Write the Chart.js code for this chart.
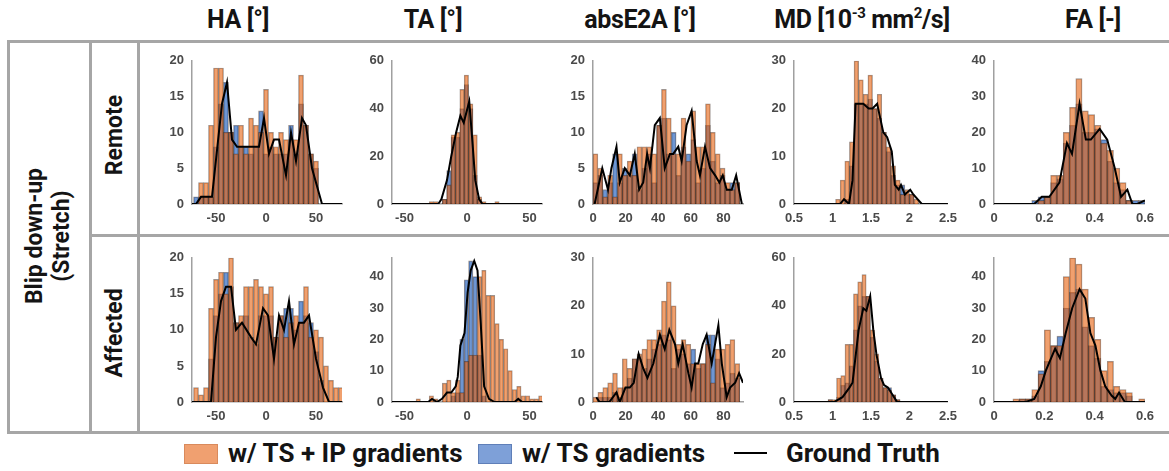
<!DOCTYPE html>
<html>
<head>
<meta charset="utf-8">
<script src="https://cdn.jsdelivr.net/npm/chart.js@4.4.1/dist/chart.umd.min.js"></script>
<style>
  html, body { margin: 0; padding: 0; background: #fff; }
  #fig { position: relative; width: 1169px; height: 471px; overflow: hidden; background: #fff;
         font-family: Roboto, "Liberation Sans", sans-serif; color: #141414; }
  .rule { position: absolute; background: #a6a6a6; }
  .hdr { position: absolute; top: 5px; font-weight: 700; font-size: 25px; white-space: nowrap;
         transform: translateX(-50%); line-height: 30px; letter-spacing: -0.4px; }
  .hdr sup { font-size: 15px; vertical-align: 10px; line-height: 0; }
  .rot { position: absolute; font-weight: 700; font-size: 23px; white-space: nowrap; text-align: center;
         transform: translate(-50%, -50%) rotate(-90deg); line-height: 27px; }
  canvas { position: absolute; }
  .sw { position: absolute; height: 20px; box-sizing: border-box; }
  .lt { position: absolute; top: 438px; font-weight: 700; font-size: 26px; white-space: nowrap; line-height: 30px; }
</style>
</head>
<body>
<div id="fig">
  <div class="rule" style="left:7px;top:40px;width:1162px;height:3px"></div>
  <div class="rule" style="left:7px;top:431px;width:1162px;height:3px"></div>
  <div class="rule" style="left:7px;top:40px;width:3px;height:394px"></div>
  <div class="rule" style="left:89px;top:40px;width:3px;height:394px"></div>
  <div class="rule" style="left:137px;top:40px;width:3px;height:394px"></div>
  <div class="rule" style="left:89px;top:234px;width:1080px;height:3px"></div>

  <div class="hdr" style="left:238px">HA [°]</div>
  <div class="hdr" style="left:433px">TA [°]</div>
  <div class="hdr" style="left:640px">absE2A [°]</div>
  <div class="hdr" style="left:862px">MD [10<sup>-3</sup> mm<sup>2</sup>/s]</div>
  <div class="hdr" style="left:1093px">FA [-]</div>

  <div class="rot" style="left:48px;top:236px">Blip down-up<br>(Stretch)</div>
  <div class="rot" style="left:114px;top:135px">Remote</div>
  <div class="rot" style="left:114px;top:333px">Affected</div>

  <div class="sw" style="left:184px;top:444px;width:34px;background:#f0a070;border:1px solid #d98a5c"></div>
  <div class="lt" style="left:228px">w/ TS + IP gradients</div>
  <div class="sw" style="left:478px;top:444px;width:34px;background:#7ea0d8;border:1px solid #5f7fb8"></div>
  <div class="lt" style="left:522px">w/ TS gradients</div>
  <div class="sw" style="left:734px;top:452px;width:33px;height:2px;background:#000"></div>
  <div class="lt" style="left:786px">Ground Truth</div>
</div>

<script>
// ---- bin centres ----
const haBins = [-70,-65,-60,-55,-50,-45,-40,-35,-30,-25,-20,-15,-10,-5,0,5,10,15,20,25,30,35,40,45,50,55,60,65,70,75];
const taBins = [-53,-49.5,-46,-42.5,-39,-35.5,-32,-28.5,-25,-21.5,-18,-14.5,-11,-7.5,-4,-0.5,3,6.5,10,13.5,17,20.5,24,27.5,31,34.5,38,41.5,45,48.5,52,55.5,59];
const e2aBins = [1.5,4.5,7.5,10.5,13.5,16.5,19.5,22.5,25.5,28.5,31.5,34.5,37.5,40.5,43.5,46.5,49.5,52.5,55.5,58.5,61.5,64.5,67.5,70.5,73.5,76.5,79.5,82.5,85.5,88.5];
const mdRemoteBins = [1.07,1.13,1.19,1.25,1.31,1.37,1.43,1.49,1.55,1.61,1.67,1.73,1.79,1.85,1.91,1.97,2.03,2.09];
const mdAffectedBins = [0.97,1.025,1.08,1.135,1.19,1.245,1.30,1.355,1.41,1.465,1.52,1.575,1.63,1.685,1.74,1.795,1.85];
const faBins = [0.0875,0.1125,0.1375,0.1625,0.1875,0.2125,0.2375,0.2625,0.2875,0.3125,0.3375,0.3625,0.3875,0.4125,0.4375,0.4625,0.4875,0.5125,0.5375,0.5625,0.5875];

// ---- HA ----
const haRemoteIP = [0,3,3,11,19,19,10,10,7,11,7,12,11,10,16,10,8,10,9,9,9,18,11,7,6,0,0,0,0,0];
const haRemoteTS = [1,1,1,1,8,14,17,10,11,8,8,7,8,13,7,8,7,7,7,11,7,14,11,7,5,0,0,0,0,0];
const haRemoteGTx = [-74,-70,-65,-54,-44,-39,-34,-29,-7,-2,3,8,13,20,25,30,36,40,46,56,76];
const haRemoteGTy = [0,0,1,1,14,17,9,8,8,12,7,9,9,4,10,6,12,11,5,0,0];
const haAffectedIP = [2,1,2,13,17,18,15,20,11,12,16,16,17,16,15,16,9,12,9,11,12,11,16,9,10,9,5,3,2,2];
const haAffectedTS = [0,0,0,6,12,15,18,16,11,11,12,9,8,12,12,12,9,12,13,13,10,14,12,11,7,3,0,0,0,0];
const haAffectedGTx = [-74,-55,-50,-45,-40,-35,-30,-24,-15,-10,-3,2,8,13,18,23,28,33,38,43,50,57,63,76];
const haAffectedGTy = [0,0,9,14,16,16,10,11,9,8,13,12,6,12,10,14,8,11,11,12,6,2,0,0];

// ---- TA ----
const taRemoteIP = [0,0,0,0,0,0,0,1,1,0,2,8,29,30,48,54,42,29,3,1,0,0,1,0,0,0,0,0,0,0,0,0,0];
const taRemoteTS = [0,0,0,0,0,0,0,0,0,0,2,14,28,28,40,50,40,12,2,0,0,0,0,0,0,0,0,0,0,0,0,0,0];
const taRemoteGTx = [-60,-23,-20.5,-16,-12.6,-8.7,-5.3,-2.6,1.8,4.5,6.6,9.7,12.4,60];
const taRemoteGTy = [0,0,2,10,20,30,37,34,43,25,10,2,0,0];
const taAffectedIP = [0,0,0,0,1,0,0,2,1,0,6,7,3,7,3,13,15,15,40,42,34,34,25,20,17,10,4,5,2,2,1,1,2];
const taAffectedTS = [0,0,0,0,0,0,0,0,0,0,0,0,2,3,20,39,45,40,15,2,0,0,0,0,0,0,0,0,0,0,0,0,0];
const taAffectedGTx = [-60,-31,-28,-24,-20,-16,-12.6,-9,-7.4,-5.3,-2,0.5,3,5.8,8.4,11,13.7,17.6,22,38,41,44,60];
const taAffectedGTy = [0,0,1,0,1,3,3,5,8,18,22,35,42,45,42,25,5,1,0,0,1,0,0];

// ---- absE2A ----
const e2aRemoteIP = [7,5,1,4,1,7,4,6,4,8,8,8,7,11,16,12,7,7,12,6,13,8,8,14,10,7,5,3,2,3];
const e2aRemoteTS = [3,4,2,3,7,3,5,4,7,2,5,7,3,11,12,7,10,4,8,7,9,3,5,11,6,3,4,2,3,3];
const e2aRemoteGTx = [1,5.7,9.2,11.3,14.4,16.4,19.5,22.6,25.6,28.3,30.8,33.2,34.9,37.9,41,44,47.2,49.2,52.3,54.4,57.4,60.5,63.6,65.6,68.7,71.8,74.9,77.5,79.6,82,85.1,87.8,91.3];
const e2aRemoteGTy = [0,5,2,5,8,3,5,4,7,2,3,7,5,11,12,5,7,7,8,6,11,13,6,4,8,5,4,3,4,2,2,4,0];
const e2aAffectedIP = [1,2,3,4,6,3,9,7,9,10,11,13,13,15,21,25,20,12,13,12,8,8,8,12,4,11,11,12,13,8];
const e2aAffectedTS = [0,1,1,1,2,1,3,5,9,9,7,9,11,12,14,13,7,11,10,8,11,7,8,14,14,9,3,4,6,5];
const e2aAffectedGTx = [2,4,10,14.4,16.4,19.9,22.6,25,28,30.8,33.4,37,41,44,46.8,50.3,52.3,55,58.5,60.5,62.6,64.6,67.3,69.7,72.8,76.9,79,82,84.1,87.2,89.6,92];
const e2aAffectedGTy = [1,0,0,2,0,3,3,4,10,7,5,8,14,11,15,12,8,12,6,3,8,8,12,14,8,16,8,1,3,4,6,4];

// ---- MD ----
const mdRemoteIP = [1,5,9,13,30,26,23,27,20,23,15,12,8,5,2,3,2,1];
const mdRemoteTS = [0,0,1,8,21,21,21,22,20,18,15,11,6,4,4,2,2,0];
const mdRemoteGTx = [0.5,1.1,1.15,1.215,1.26,1.30,1.40,1.47,1.52,1.58,1.66,1.71,1.77,1.81,1.86,1.89,1.94,2.01,2.05,2.16,2.5];
const mdRemoteGTy = [0,0,1,0,5,21,21,20,20,21,15,14,11,4,3,4,2,3,2,0,0];
const mdAffectedIP = [1,1,10,11,24,24,45,50,53,44,30,20,10,6,5,3,1];
const mdAffectedTS = [1,0,2,7,8,15,30,40,44,44,27,17,10,6,6,3,1];
const mdAffectedGTx = [0.5,1.02,1.13,1.22,1.26,1.34,1.40,1.44,1.49,1.53,1.57,1.63,1.67,1.72,1.78,1.82,1.84,2.5];
const mdAffectedGTy = [0,0,2,6,8,30,39,38,44,30,20,10,7,6,3,1,0,0];

// ---- FA ----
const faRemoteIP = [0,0,0,0,1,2,8,8,20,27,35,26,25,22,17,15,10,6,1,0,0];
const faRemoteTS = [0,0,0,1,2,2,6,7,17,22,28,20,20,21,18,12,6,4,1,1,1];
const faRemoteGTx = [0,0.16,0.19,0.22,0.26,0.29,0.31,0.34,0.365,0.385,0.42,0.45,0.48,0.505,0.53,0.55,0.57,0.6];
const faRemoteGTy = [0,0,2,2,6,17,14,28,18,18,21,18,10,2,4,0,0,1];
const faAffectedIP = [1,1,1,4,9,23,18,18,40,46,44,36,27,20,10,13,5,4,3,0,1];
const faAffectedTS = [0,1,1,2,10,13,18,21,30,35,36,24,18,14,5,4,3,3,2,0,0];
const faAffectedGTx = [0,0.127,0.16,0.186,0.206,0.243,0.262,0.285,0.311,0.34,0.363,0.383,0.403,0.423,0.442,0.468,0.482,0.497,0.52,0.6];
const faAffectedGTy = [0,0,1,5,10,17,14,22,30,36,33,22,18,10,5,2,1,3,0,0];

// ---- tick labels ----
const haTicks = [-50, 0, 50];
const taTicks = [-50, 0, 50];
const e2aTicks = [0, 20, 40, 60, 80];
const mdTicks = [0.5, 1, 1.5, 2, 2.5];
const faTicks = [0, 0.2, 0.4, 0.6];

// ---- layout of the grid of panels ----
const columns = [
  { left: 192, w: 150, min: -74, max: 76, ticks: haTicks },
  { left: 392, w: 150, min: -60, max: 60, ticks: taTicks },
  { left: 593, w: 150, min: 0, max: 92, ticks: e2aTicks },
  { left: 794, w: 156, min: 0.5, max: 2.5, ticks: mdTicks },
  { left: 994, w: 153, min: 0, max: 0.6, ticks: faTicks }
];
const rows = [ { top: 55, h: 149 }, { top: 252, h: 150 } ];

const panels = [
  { r: 0, c: 0, bins: haBins, ip: haRemoteIP, ts: haRemoteTS, gx: haRemoteGTx, gy: haRemoteGTy, yMax: 20, yTicks: [0,5,10,15,20] },
  { r: 0, c: 1, bins: taBins, ip: taRemoteIP, ts: taRemoteTS, gx: taRemoteGTx, gy: taRemoteGTy, yMax: 60, yTicks: [0,20,40,60] },
  { r: 0, c: 2, bins: e2aBins, ip: e2aRemoteIP, ts: e2aRemoteTS, gx: e2aRemoteGTx, gy: e2aRemoteGTy, yMax: 20, yTicks: [0,5,10,15,20] },
  { r: 0, c: 3, bins: mdRemoteBins, ip: mdRemoteIP, ts: mdRemoteTS, gx: mdRemoteGTx, gy: mdRemoteGTy, yMax: 30, yTicks: [0,10,20,30] },
  { r: 0, c: 4, bins: faBins, ip: faRemoteIP, ts: faRemoteTS, gx: faRemoteGTx, gy: faRemoteGTy, yMax: 40, yTicks: [0,10,20,30,40] },
  { r: 1, c: 0, bins: haBins, ip: haAffectedIP, ts: haAffectedTS, gx: haAffectedGTx, gy: haAffectedGTy, yMax: 20, yTicks: [0,5,10,15,20] },
  { r: 1, c: 1, bins: taBins, ip: taAffectedIP, ts: taAffectedTS, gx: taAffectedGTx, gy: taAffectedGTy, yMax: 46, yTicks: [0,10,20,30,40] },
  { r: 1, c: 2, bins: e2aBins, ip: e2aAffectedIP, ts: e2aAffectedTS, gx: e2aAffectedGTx, gy: e2aAffectedGTy, yMax: 30, yTicks: [0,10,20,30] },
  { r: 1, c: 3, bins: mdAffectedBins, ip: mdAffectedIP, ts: mdAffectedTS, gx: mdAffectedGTx, gy: mdAffectedGTy, yMax: 60, yTicks: [0,20,40,60] },
  { r: 1, c: 4, bins: faBins, ip: faAffectedIP, ts: faAffectedTS, gx: faAffectedGTx, gy: faAffectedGTy, yMax: 46, yTicks: [0,10,20,30,40] }
];

const ORANGE = 'rgba(230,97,13,0.6)';
const BLUE = 'rgba(13,80,180,0.6)';
const EDGE = 'rgba(40,20,10,0.45)';
const AXIS = '#a0a0a0';
const TICK_FONT = { family: '"Liberation Sans", Arial, sans-serif', size: 13, weight: 'bold' };
const TICK_COLOR = '#4a4a4a';
const Y_AXIS_W = 40, X_AXIS_H = 26, PAD_TOP = 10, PAD_RIGHT = 14;

const toPoints = (xs, ys) => xs.map((x, i) => ({ x: x, y: ys[i] }));

const fig = document.getElementById('fig');
panels.forEach(p => {
  const col = columns[p.c], row = rows[p.r];
  const cv = document.createElement('canvas');
  cv.width = Y_AXIS_W + col.w + PAD_RIGHT;
  cv.height = PAD_TOP + row.h + X_AXIS_H;
  cv.style.left = (col.left - Y_AXIS_W) + 'px';
  cv.style.top = (row.top - PAD_TOP) + 'px';
  fig.appendChild(cv);

  new Chart(cv, {
    type: 'bar',
    data: {
      datasets: [
        { label: 'w/ TS gradients', data: toPoints(p.bins, p.ts), backgroundColor: BLUE,
          borderColor: EDGE, borderWidth: 0.8, grouped: false, barPercentage: 1, categoryPercentage: 1, order: 3 },
        { label: 'w/ TS + IP gradients', data: toPoints(p.bins, p.ip), backgroundColor: ORANGE,
          borderColor: EDGE, borderWidth: 0.8, grouped: false, barPercentage: 1, categoryPercentage: 1, order: 2 },
        { type: 'line', label: 'Ground Truth', data: toPoints(p.gx, p.gy), borderColor: '#000',
          borderWidth: 2, pointRadius: 0, tension: 0, fill: false, order: 1 }
      ]
    },
    options: {
      responsive: false, animation: false, devicePixelRatio: 1,
      layout: { padding: { top: PAD_TOP, right: PAD_RIGHT, left: 0, bottom: 0 } },
      plugins: { legend: { display: false }, tooltip: { enabled: false } },
      scales: {
        x: {
          type: 'linear', min: col.min, max: col.max, offset: false,
          grid: { display: false, drawTicks: false, offset: false },
          border: { display: true, color: AXIS, width: 1.5 },
          ticks: { font: TICK_FONT, color: TICK_COLOR, padding: 7, autoSkip: false, maxRotation: 0,
                   callback: v => String(v) },
          afterBuildTicks: a => { a.ticks = col.ticks.map(v => ({ value: v })); },
          afterFit: a => { a.height = X_AXIS_H; }
        },
        y: {
          type: 'linear', min: 0, max: p.yMax,
          grid: { display: false, drawTicks: false },
          border: { display: true, color: AXIS, width: 1.5 },
          ticks: { font: TICK_FONT, color: TICK_COLOR, padding: 8, autoSkip: false,
                   callback: v => String(v) },
          afterBuildTicks: a => { a.ticks = p.yTicks.map(v => ({ value: v })); },
          afterFit: a => { a.width = Y_AXIS_W; }
        }
      }
    }
  });
});
</script>
</body>
</html>
